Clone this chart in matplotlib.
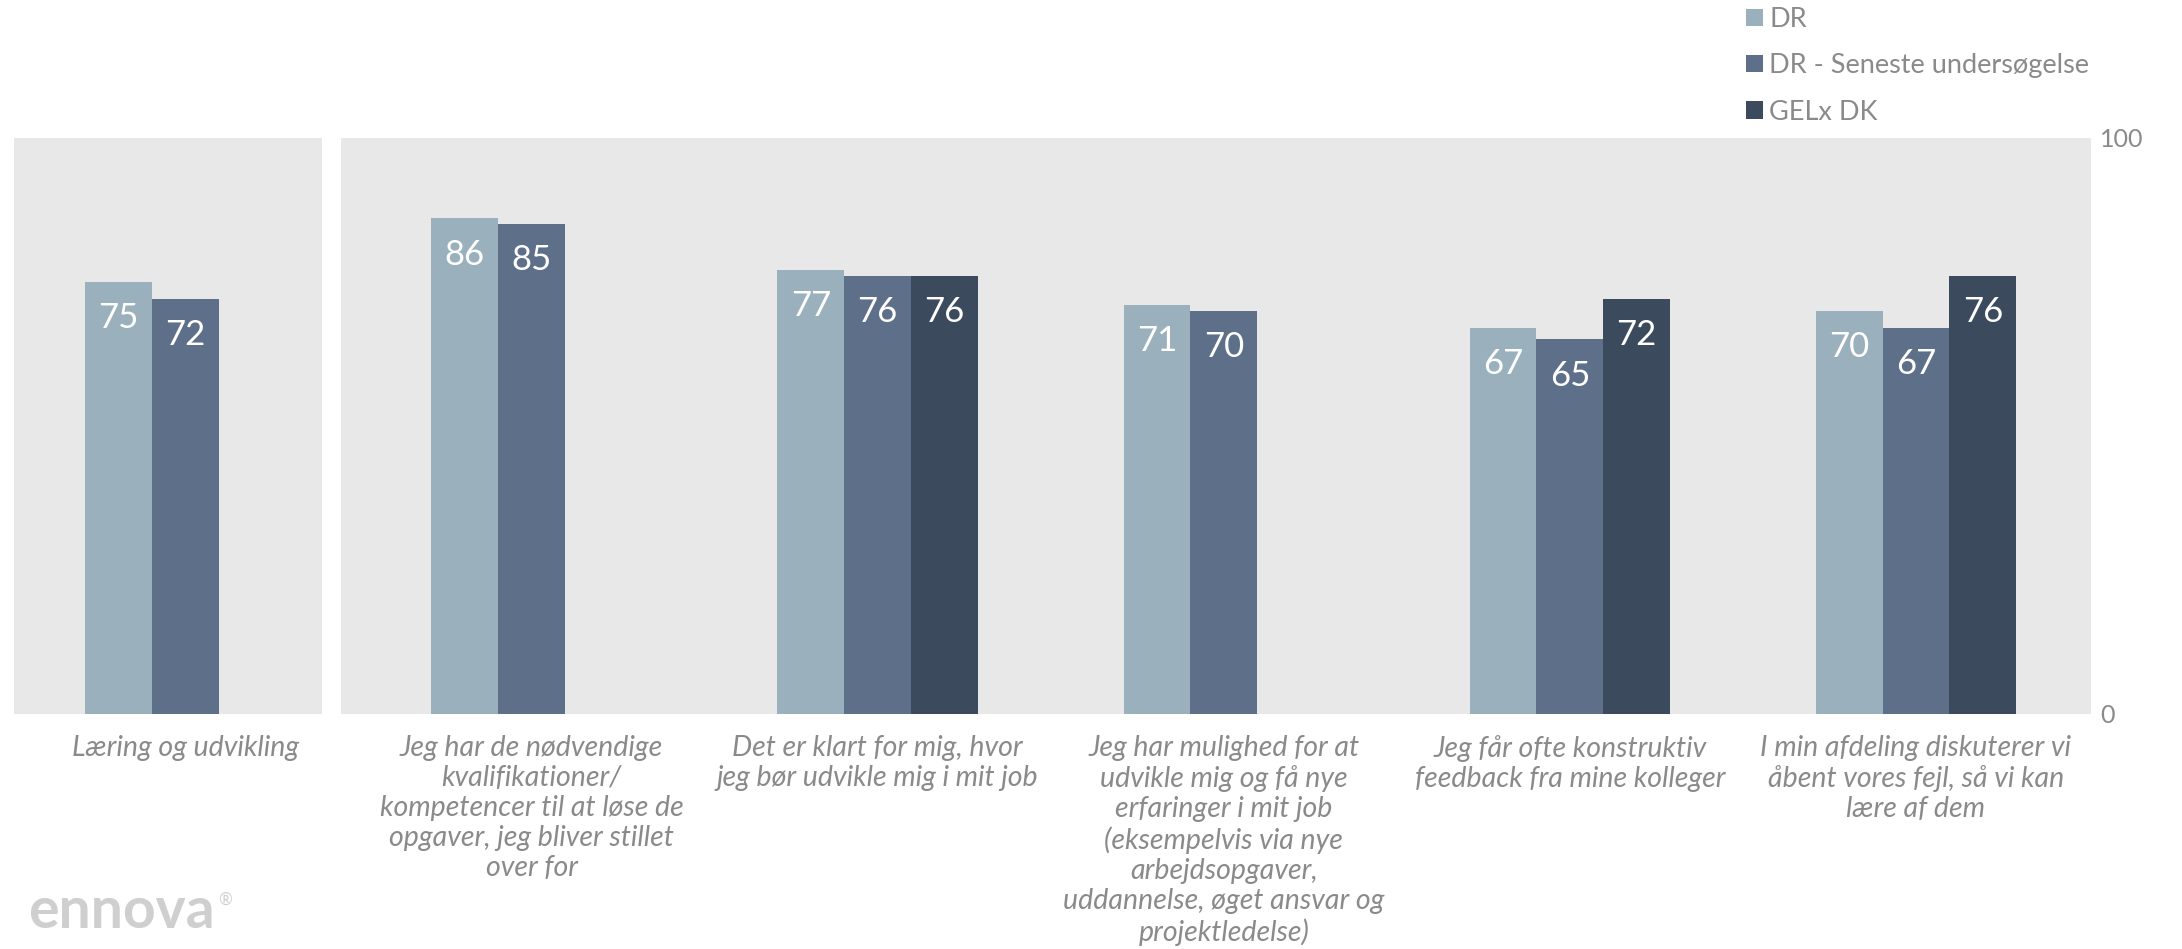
"""Ennova survey bars -- 'Læring og udvikling' summary plus five item questions."""

import matplotlib
matplotlib.use("Agg")
import matplotlib.pyplot as plt
import numpy as np

# --- data -----------------------------------------------------------------
series = ["DR", "DR - Seneste undersøgelse", "GELx DK"]

summary_label = "Læring og udvikling"
summary_vals = [75, 72, np.nan]

item_labels = [
    "Jeg har de nødvendige\nkvalifikationer/\nkompetencer til at løse de\nopgaver, jeg bliver stillet\nover for",
    "Det er klart for mig, hvor\njeg bør udvikle mig i mit job",
    "Jeg har mulighed for at\nudvikle mig og få nye\nerfaringer i mit job\n(eksempelvis via nye\narbejdsopgaver,\nuddannelse, øget ansvar og\nprojektledelse)",
    "Jeg får ofte konstruktiv\nfeedback fra mine kolleger",
    "I min afdeling diskuterer vi\nåbent vores fejl, så vi kan\nlære af dem",
]
dr = [86, 77, 71, 67, 70]
dr_latest = [85, 76, 70, 65, 67]
gelx = [np.nan, 76, np.nan, 72, 76]

# --- style ----------------------------------------------------------------
COLORS = ["#9AB1BD", "#5E6F8A", "#3C4A5E"]
BG = "#E8E8E8"
GREY = "#8A8A8A"
FONT = "Lato"
W = 0.193

plt.rcParams["font.family"] = [FONT, "DejaVu Sans"]


def draw_groups(ax, groups, labels):
    x = np.arange(len(labels))
    handles = []
    for k, vals in enumerate(groups):
        vals = np.asarray(vals, dtype=float)
        bars = ax.bar(x + (k - 1) * W, np.nan_to_num(vals), W, color=COLORS[k],
                      label=series[k], zorder=2)
        handles.append(bars)
        for xi, v in zip(x, vals):
            if np.isnan(v):
                continue
            ax.annotate(f"{v:.0f}", (xi + (k - 1) * W, v), xytext=(0, -26),
                        textcoords="offset points", ha="center", va="center",
                        color="white", fontsize=25, family=FONT)
    ax.set_facecolor(BG)
    ax.set_ylim(0, 100)
    ax.set_xticks(x)
    ax.set_xticklabels(labels, fontsize=20.5, style="italic", color=GREY,
                       linespacing=1.19, va="top")
    ax.tick_params(axis="x", length=0, pad=15)
    for s in ax.spines.values():
        s.set_visible(False)
    return handles


fig = plt.figure(figsize=(21.82, 9.49), dpi=100)
ax1 = fig.add_axes([0.0064, 0.2477, 0.1410, 0.6071])
ax2 = fig.add_axes([0.1562, 0.2477, 0.8023, 0.6071])

draw_groups(ax1, [[summary_vals[0]], [summary_vals[1]], [summary_vals[2]]], [summary_label])
ax1.set_xlim(-0.494, 0.394)
ax1.set_yticks([])

handles = draw_groups(ax2, [dr, dr_latest, gelx], item_labels)
ax2.set_xlim(-0.551, 4.507)
ax2.yaxis.tick_right()
ax2.set_yticks([0, 100])
ax2.tick_params(axis="y", length=0, pad=6, labelsize=18, labelcolor=GREY)

leg = fig.legend(handles, series, loc="upper left", bbox_to_anchor=(0.7892, 1.018),
                 frameon=False, fontsize=19.5, handlelength=0.6, handleheight=0.6,
                 handletextpad=0.25, labelspacing=0.78)
for t in leg.get_texts():
    t.set_color(GREY)

fig.text(0.013, 0.022, "ennova", fontsize=41, color="#CFCFCF", weight="bold",
         family=FONT, va="baseline")
fig.text(0.1, 0.047, "®", fontsize=12, color="#CFCFCF", family=FONT)

fig.savefig("out.png", dpi=100)
